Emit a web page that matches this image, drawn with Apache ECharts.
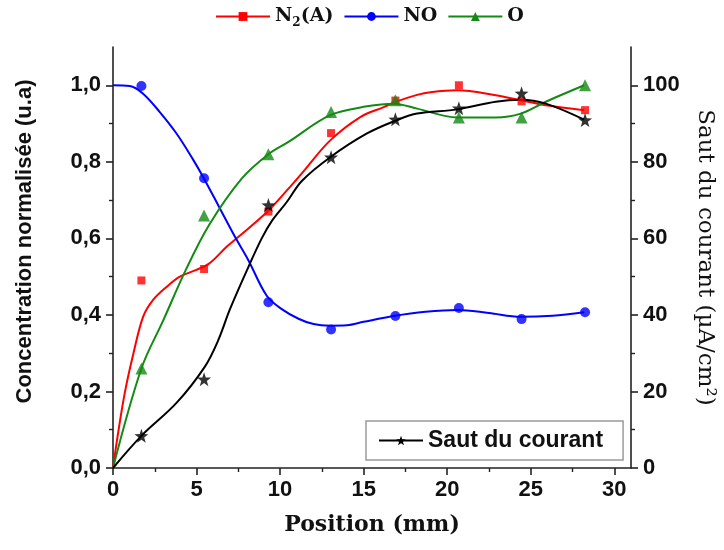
<!DOCTYPE html>
<html>
<head>
<meta charset="utf-8">
<script src="https://cdn.jsdelivr.net/npm/echarts@6/dist/echarts.min.js"></script>
<style>html,body{margin:0;padding:0;background:#fff;}#chart{width:724px;height:550px;}</style>
</head>
<body>
<div id="chart"></div>
<script>
// Measured points (position in mm)
const positions = [1.7, 5.45, 9.3, 13.05, 16.9, 20.7, 24.45, 28.25];
const n2aPoints = [0.49, 0.52, 0.67, 0.875, 0.96, 1.0, 0.958, 0.935];
const noPoints = [0.998, 0.757, 0.433, 0.362, 0.397, 0.418, 0.389, 0.407];
const oPoints = [0.26, 0.66, 0.82, 0.93, 0.961, 0.916, 0.916, 1.0];
const sautPoints = [8.4, 23.2, 68.7, 81.2, 91.1, 94.0, 97.9, 90.9];

// Fitted curves
const n2aCurveX = [0, 0.3, 0.7, 1.2, 1.8, 2.4, 3.2, 4.0, 4.95, 5.75, 6.8, 7.4, 9.2, 10.5, 11.3, 13.0, 14.8, 16.2, 17.0, 18.2, 19.0, 20.6, 22.9, 24.4, 25.9, 28.2];
const n2aCurveY = [0, 0.09, 0.195, 0.295, 0.395, 0.439, 0.473, 0.50, 0.517, 0.534, 0.578, 0.60, 0.668, 0.73, 0.77, 0.856, 0.917, 0.943, 0.958, 0.975, 0.982, 0.987, 0.974, 0.961, 0.948, 0.935];
const noCurveX = [0, 1.0, 1.8, 2.8, 3.8, 4.75, 5.45, 6.35, 7.3, 8.1, 9.2, 10.1, 11.1, 12.0, 13.0, 14.0, 15.0, 16.8, 18.7, 20.6, 22.5, 24.4, 26.3, 28.2];
const noCurveY = [1.0, 0.998, 0.978, 0.93, 0.874, 0.809, 0.756, 0.682, 0.604, 0.543, 0.45, 0.415, 0.39, 0.376, 0.372, 0.373, 0.382, 0.397, 0.408, 0.413, 0.405, 0.395, 0.398, 0.407];
const oCurveX = [0, 1.7, 3.0, 4.35, 5.75, 7.7, 9.3, 10.5, 13.0, 15.2, 16.8, 18.2, 20.6, 22.9, 24.4, 25.9, 28.2];
const oCurveY = [0, 0.26, 0.385, 0.517, 0.635, 0.756, 0.82, 0.852, 0.922, 0.945, 0.952, 0.939, 0.916, 0.916, 0.926, 0.957, 1.0];
const sautCurveX = [0, 1.7, 3.8, 5.5, 6.3, 7.0, 8.1, 8.9, 9.5, 10.4, 11.3, 13.0, 15.2, 17.0, 18.2, 20.6, 22.9, 24.4, 25.9, 28.2];
const sautCurveY = [0, 8.4, 17, 26.5, 33.4, 41.5, 52.5, 60, 64.5, 69.5, 75, 81.2, 87.4, 90.9, 92.6, 93.7, 95.7, 96.2, 95.2, 91];

// Axis ticks
const xTicks = {min: 0, max: 31, interval: 5};
const yLeftTicks = {min: 0, max: 1.1, interval: 0.2};
const yRightTicks = {min: 0, max: 110, interval: 20};
const xTickValues = [0, 5, 10, 15, 20, 25, 30];
const yLeftTickValues = [0, 0.2, 0.4, 0.6, 0.8, 1.0];
const yRightTickValues = [0, 20, 40, 60, 80, 100];

const zip = (xs, ys) => xs.map((x, i) => [x, ys[i]]);

const RED = '#ff0000', BLUE = '#0000ff', GREEN = '#138a13', BLACK = '#000000';
const AXIS = '#222';
const tickFont = {fontFamily: '"Liberation Sans", Arial, sans-serif', fontWeight: 'bold', fontSize: 22, color: '#111'};
const fmtComma = v => v.toFixed(1).replace('.', ',');
const STAR = 'path://M0,-10 L2.35,-3.24 L9.51,-3.09 L3.8,1.24 L5.88,8.09 L0,4 L-5.88,8.09 L-3.8,1.24 L-9.51,-3.09 L-2.35,-3.24 Z';

const chart = echarts.init(document.getElementById('chart'), null, {renderer: 'canvas'});

function axisCommon(tickValues) {
  return {
    axisLine: {show: true, onZero: false, lineStyle: {color: AXIS, width: 1.6}},
    axisTick: {show: true, inside: false, length: 7, customValues: tickValues, lineStyle: {color: AXIS, width: 1.6}},
    minorTick: {show: true, splitNumber: 2, length: 4, lineStyle: {color: AXIS, width: 1.4}},
    splitLine: {show: false},
    minorSplitLine: {show: false}
  };
}

const option = {
  animation: false,
  backgroundColor: '#fff',
  grid: {left: 113, right: 87, top: 47, bottom: 82, containLabel: false},
  legend: [
    {
      data: ['N2(A)', 'NO', 'O'],
      left: 210, top: 2,
      itemWidth: 54, itemHeight: 11, itemGap: 10,
      formatter: name => name === 'N2(A)' ? '{b|N}{s|2}{b|(A)}' : '{b|' + name + '}',
      textStyle: {
        rich: {
          b: {fontFamily: '"DejaVu Serif", serif', fontWeight: 'bold', fontSize: 19, color: '#111'},
          s: {fontFamily: '"DejaVu Serif", serif', fontWeight: 'bold', fontSize: 12, color: '#111', padding: [12, 0, 0, 0]}
        }
      }
    },
    {
      data: ['Saut du courant'],
      left: 366, top: 421,
      itemWidth: 44, itemHeight: 12,
      padding: [8, 20, 8, 12],
      borderColor: '#9a9a9a', borderWidth: 1.5,
      textStyle: {fontFamily: '"Liberation Sans", Arial, sans-serif', fontWeight: 'bold', fontSize: 23, color: '#111'}
    }
  ],
  xAxis: Object.assign(axisCommon(xTickValues), {
    type: 'value', min: xTicks.min, max: xTicks.max, interval: xTicks.interval,
    axisLabel: Object.assign({margin: 11, showMaxLabel: false}, tickFont),
    name: 'Position (mm)', nameLocation: 'middle', nameGap: 46,
    nameTextStyle: {fontFamily: '"DejaVu Serif", serif', fontWeight: 'bold', fontSize: 22, color: '#111'}
  }),
  yAxis: [
    Object.assign(axisCommon(yLeftTickValues), {
      type: 'value', position: 'left', min: yLeftTicks.min, max: yLeftTicks.max, interval: yLeftTicks.interval,
      axisLabel: Object.assign({margin: 12, showMaxLabel: false, formatter: fmtComma}, tickFont),
      name: 'Concentration normalisée (u.a)', nameLocation: 'middle', nameGap: 77, nameRotate: 90,
      nameTextStyle: {fontFamily: '"Liberation Sans", Arial, sans-serif', fontWeight: 'bold', fontSize: 22, color: '#111', padding: [0, 0, 0, 32]}
    }),
    Object.assign(axisCommon(yRightTickValues), {
      type: 'value', position: 'right', min: yRightTicks.min, max: yRightTicks.max, interval: yRightTicks.interval,
      axisLabel: Object.assign({margin: 12, showMaxLabel: false}, tickFont),
      name: 'Saut du courant (µA/cm²)', nameLocation: 'middle', nameGap: 62, nameRotate: -90,
      nameTextStyle: {fontFamily: '"DejaVu Serif", serif', fontSize: 23, color: '#111'}
    })
  ],
  series: [
    {name: 'N2(A)', type: 'line', yAxisIndex: 0, data: zip(n2aCurveX, n2aCurveY), smooth: 0.35, symbol: 'rect', symbolSize: 8, showSymbol: false, color: RED, lineStyle: {width: 2, color: RED}, z: 2},
    {name: 'NO', type: 'line', yAxisIndex: 0, data: zip(noCurveX, noCurveY), smooth: 0.35, symbol: 'circle', symbolSize: 9, showSymbol: false, color: BLUE, lineStyle: {width: 2, color: BLUE}, z: 2},
    {name: 'O', type: 'line', yAxisIndex: 0, data: zip(oCurveX, oCurveY), smooth: 0.35, symbol: 'triangle', symbolSize: 10, showSymbol: false, color: GREEN, lineStyle: {width: 2, color: GREEN}, z: 2},
    {name: 'Saut du courant', type: 'line', yAxisIndex: 1, data: zip(sautCurveX, sautCurveY), smooth: 0.35, symbol: STAR, symbolSize: 10, showSymbol: false, color: BLACK, lineStyle: {width: 2, color: BLACK}, z: 2},
    {name: 'N2(A) pts', type: 'scatter', yAxisIndex: 0, data: zip(positions, n2aPoints), symbol: 'rect', symbolSize: 8, itemStyle: {color: RED}, z: 3},
    {name: 'NO pts', type: 'scatter', yAxisIndex: 0, data: zip(positions, noPoints), symbol: 'circle', symbolSize: 10, itemStyle: {color: BLUE}, z: 3},
    {name: 'O pts', type: 'scatter', yAxisIndex: 0, data: zip(positions, oPoints), symbol: 'triangle', symbolSize: 12, itemStyle: {color: GREEN}, z: 3},
    {name: 'Saut pts', type: 'scatter', yAxisIndex: 1, data: zip(positions, sautPoints), symbol: STAR, symbolSize: 14, itemStyle: {color: BLACK}, z: 4}
  ]
};
chart.setOption(option);
</script>
</body>
</html>
